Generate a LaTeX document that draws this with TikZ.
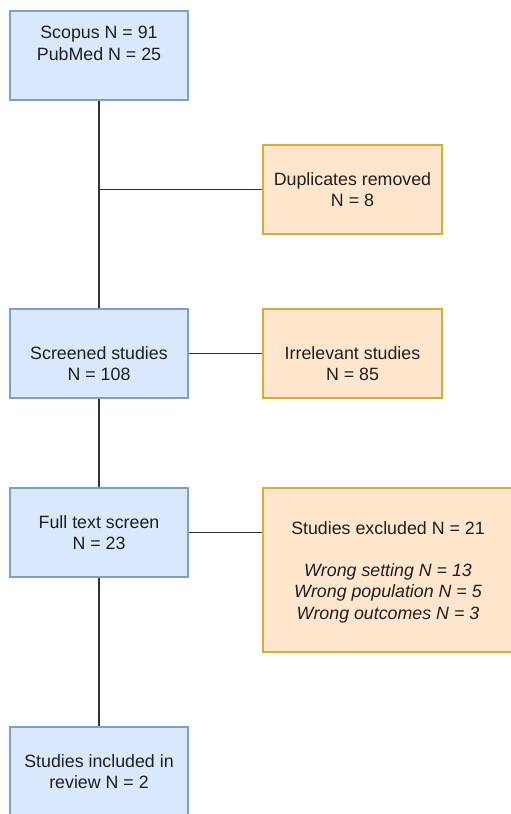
\documentclass[tikz,border=0pt]{standalone}
\usepackage{fontspec}
\setmainfont{Liberation Sans}
\usepackage{xcolor}
\usetikzlibrary{arrows}

\definecolor{blueFill}{HTML}{DAE8FC}
\definecolor{blueLine}{HTML}{7F9FCB}
\definecolor{orangeFill}{HTML}{FFE6CC}
\definecolor{orangeLine}{HTML}{DDAA33}
\definecolor{lineGray}{HTML}{333333}
\definecolor{txtGray}{HTML}{1F1F1F}

\begin{document}
\begin{tikzpicture}[x=1pt,y=-1pt,
    every node/.style={font=\fontsize{17.8}{21.5}\selectfont,text=txtGray,align=center,inner sep=0pt},
    blue box/.style={rectangle,draw=blueLine,fill=blueFill,line width=1.2pt,minimum width=178pt,minimum height=89pt},
    orange box/.style={rectangle,draw=orangeLine,fill=orangeFill,line width=1.2pt,minimum width=179pt,minimum height=89pt},
    link/.style={draw=lineGray,line width=1.3pt}]

				\useasboundingbox (0,0) rectangle (511,814);

				\node[blue box] (scopus) at (99,55.5) {Scopus N = 91\\PubMed N = 25\\[3pt]\mbox{}};
				\node[orange box] (dup) at (352.5,189.5) {Duplicates removed\\N = 8};
				\node[blue box] (screened) at (99,353.5) {\rule{0pt}{33pt}Screened studies\\N = 108};
				\node[orange box] (irrel) at (352.5,353.5) {\rule{0pt}{33pt}Irrelevant studies\\N = 85};
				\node[blue box] (fulltext) at (99,532.5) {Full text screen\\N = 23};
				\node[orange box,minimum width=250pt,minimum height=164pt] (excl) at (388,570)
					{\rule{0pt}{17pt}Studies excluded N = 21\\[20.5pt]\textit{Wrong setting N = 13}\\\textit{Wrong population N = 5}\\\textit{Wrong outcomes N = 3}};
				\node[blue box] (incl) at (99,771.5) {Studies included in\\review N = 2};

				\foreach \source/\dest in {scopus/screened, screened/fulltext, fulltext/incl, screened/irrel}
					\path (\source) edge[link] (\dest);
				\draw[link] (dup) -- (dup -| scopus);
				\draw[link] (fulltext) -- (fulltext -| excl.west);
			\end{tikzpicture}
\end{document}
